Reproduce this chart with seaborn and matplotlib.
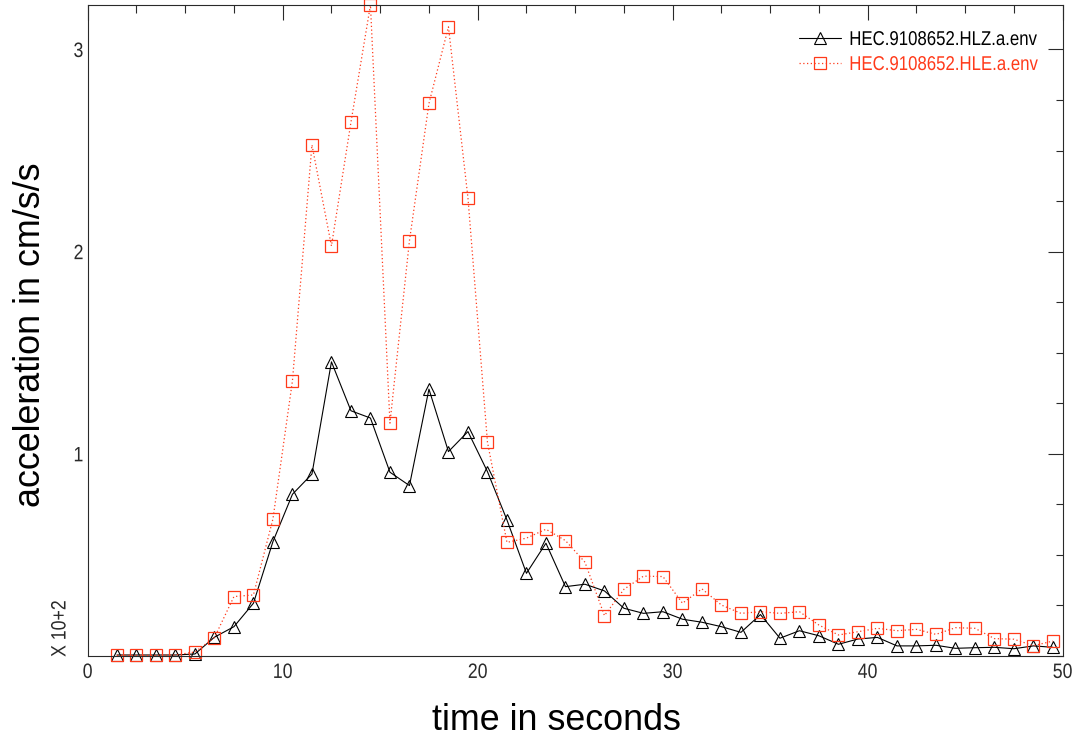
import matplotlib
matplotlib.use("Agg")
import matplotlib.pyplot as plt
from matplotlib.ticker import MultipleLocator, FixedLocator
from matplotlib.patheffects import AbstractPathEffect
from matplotlib.transforms import Affine2D
import seaborn as sns

# Envelope of ground acceleration at station HEC (units of 10^2 cm/s/s)
time_s = [1.5, 2.5, 3.5, 4.5, 5.5, 6.5, 7.5, 8.5, 9.5, 10.5,
          11.5, 12.5, 13.5, 14.5, 15.5, 16.5, 17.5, 18.5, 19.5, 20.5,
          21.5, 22.5, 23.5, 24.5, 25.5, 26.5, 27.5, 28.5, 29.5, 30.5,
          31.5, 32.5, 33.5, 34.5, 35.5, 36.5, 37.5, 38.5, 39.5, 40.5,
          41.5, 42.5, 43.5, 44.5, 45.5, 46.5, 47.5, 48.5, 49.5]

hlz_env = [0.005, 0.005, 0.005, 0.005, 0.01, 0.093, 0.145, 0.261, 0.566, 0.80,
           0.90, 1.455, 1.213, 1.177, 0.909, 0.843, 1.32, 1.011, 1.11, 0.912,
           0.673, 0.409, 0.558, 0.343, 0.355, 0.322, 0.236, 0.211, 0.219, 0.182,
           0.167, 0.145, 0.117, 0.205, 0.088, 0.125, 0.10, 0.058, 0.084, 0.092,
           0.05, 0.05, 0.053, 0.038, 0.041, 0.043, 0.036, 0.05, 0.043]

hle_env = [0.003, 0.003, 0.003, 0.005, 0.02, 0.091, 0.294, 0.302, 0.678, 1.361,
           2.528, 2.028, 2.64, 3.22, 1.152, 2.054, 2.733, 3.112, 2.266, 1.058,
           0.562, 0.583, 0.627, 0.571, 0.464, 0.20, 0.33, 0.395, 0.393, 0.261,
           0.332, 0.252, 0.211, 0.219, 0.211, 0.219, 0.153, 0.104, 0.12, 0.137,
           0.125, 0.132, 0.107, 0.14, 0.137, 0.086, 0.083, 0.051, 0.074]

series_names = ["HEC.9108652.HLZ.a.env", "HEC.9108652.HLE.a.env"]
x_ticks = [0, 10, 20, 30, 40, 50]
y_ticks = [1, 2, 3]

RED = "#ff3a1a"
INK = "#2a2a2a"
BASE_FONT = ["Liberation Sans", "DejaVu Sans"]


class Squeeze(AbstractPathEffect):
    """Narrow glyphs horizontally around an anchor (left, center or right)."""

    def __init__(self, sx=0.85, anchor="center"):
        super().__init__()
        self.sx = sx
        self.anchor = anchor

    def draw_path(self, renderer, gc, tpath, affine, rgbFace=None):
        ext = tpath.get_extents()
        cx = {"left": ext.x0, "right": ext.x1}.get(self.anchor, 0.5 * (ext.x0 + ext.x1))
        t = Affine2D().translate(-cx, 0).scale(self.sx, 1).translate(cx, 0) + affine
        renderer.draw_path(gc, tpath, t, rgbFace)


sns.set_theme(style="white")
plt.rcParams["font.family"] = BASE_FONT

W, H = 1078, 742
fig = plt.figure(figsize=(W / 100, H / 100), dpi=100)
x0, x1, y0, y1 = 87.7, 1062.7, 5.0, 656.0
ax = fig.add_axes([x0 / W, 1 - y1 / H, (x1 - x0) / W, (y1 - y0) / H])

sns.lineplot(x=time_s, y=hlz_env, ax=ax, color="black", lw=0.8,
             marker="^", ms=9, mfc="none", mec="black", mew=0.8,
             errorbar=None, sort=False, label=series_names[0], clip_on=False)
sns.lineplot(x=time_s, y=hle_env, ax=ax, color=RED, lw=0.9,
             linestyle=(0, (1, 2)), marker="s", ms=9, mfc="none",
             mec=RED, mew=0.9, errorbar=None, sort=False,
             label=series_names[1], clip_on=False)

ax.set_xlim(0, 50)
ax.set_ylim(0, 3.22)
ax.set_xlabel("")
ax.set_ylabel("")
ax.xaxis.set_major_locator(FixedLocator(x_ticks))
ax.xaxis.set_minor_locator(MultipleLocator(2.5))
ax.yaxis.set_major_locator(FixedLocator(y_ticks))
ax.yaxis.set_minor_locator(MultipleLocator(0.25))
ax.set_xticklabels([str(v) for v in x_ticks])
ax.set_yticklabels([str(v) for v in y_ticks])

for sp in ax.spines.values():
    sp.set_color(INK)
    sp.set_linewidth(0.8)

ax.tick_params(which="both", direction="in", top=True, right=True,
               width=0.8, color=INK, labelcolor=INK, labelsize=15)
ax.tick_params(which="major", length=10.8)
ax.tick_params(which="minor", length=5.4)
ax.tick_params(axis="x", pad=5)
ax.tick_params(axis="y", pad=3)

for lab in ax.get_xticklabels():
    lab.set_path_effects([Squeeze(0.85, "center")])
for lab in ax.get_yticklabels():
    lab.set_path_effects([Squeeze(0.85, "right")])

leg = ax.legend(loc="upper left", bbox_to_anchor=(799 / W, 1 - 30 / H),
                bbox_transform=fig.transFigure, frameon=False, fontsize=14.4,
                handlelength=2.1, handletextpad=0.4, labelspacing=0.3,
                borderpad=0, borderaxespad=0, numpoints=1,
                labelcolor="linecolor")
for txt in leg.get_texts():
    txt.set_path_effects([Squeeze(0.84, "left")])

fig.text(31 / W, 1 - 335 / H, "acceleration in cm/s/s", rotation=90,
         ha="center", va="center", fontsize=25.8, color="black")
fig.text(556 / W, 1 - 720 / H, "time in seconds", ha="center",
         va="center", fontsize=25.8, color="black")
fig.text(60 / W, 1 - 657 / H, "X 10+2", rotation=90, ha="center",
         va="bottom", fontsize=15, color=INK,
         path_effects=[Squeeze(0.85, "left")])

fig.savefig("out.png", dpi=100, facecolor="white")
